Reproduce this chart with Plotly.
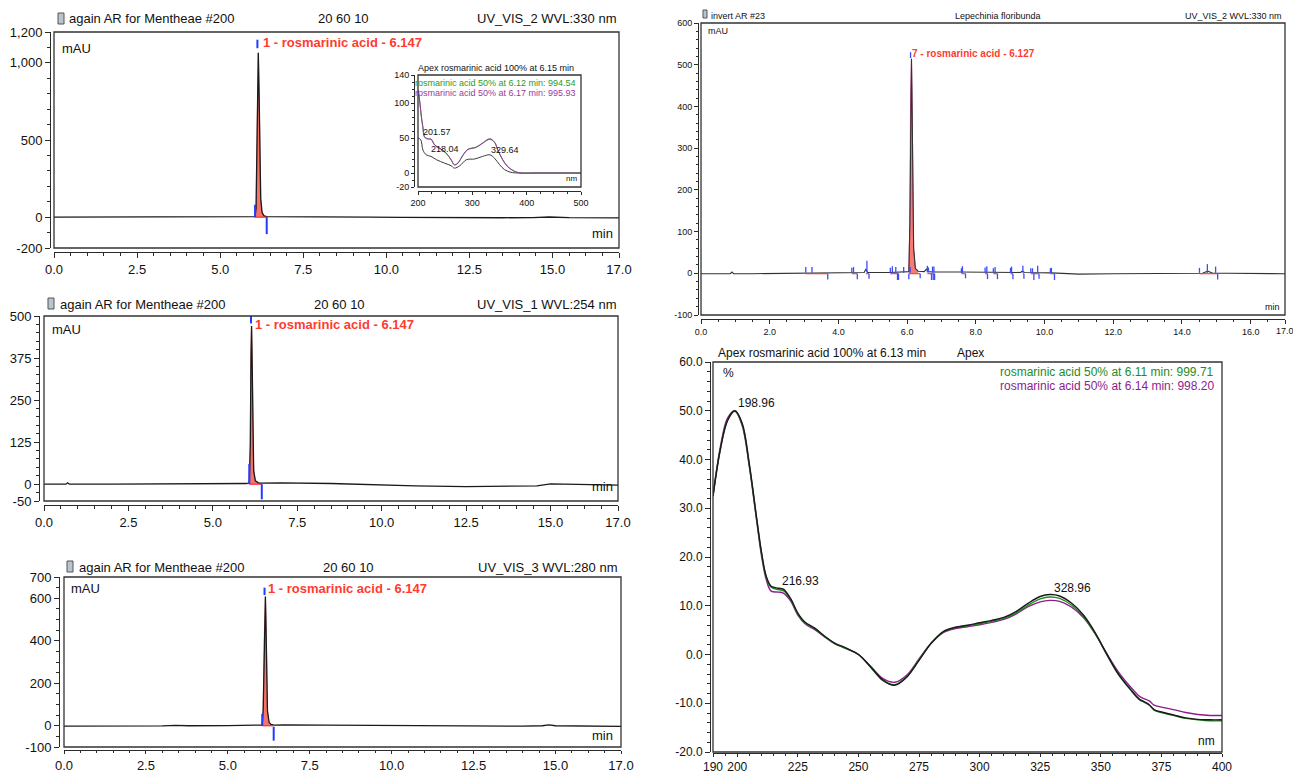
import plotly.graph_objects as go

W, H = 1293, 773
FONT = "Liberation Sans, Arial, sans-serif"

# ======================= DATA =======================
# Panel A : again AR for Mentheae #200, UV_VIS_2 WVL:330 nm
a_time = [0.0, 0.7, 1.5, 2.5, 3.5, 4.5, 5.5, 5.9, 6.05, 6.08, 6.10, 6.12, 6.147, 6.17, 6.19, 6.22, 6.26,
          6.32, 6.40, 6.6, 7.5, 8.5, 9.5, 10.5, 11.5, 12.5, 13.5, 14.4, 14.7, 14.8, 14.9, 15.5, 16.3, 17.0]
a_mau = [0, 0, -1, -1, 0, 1, 2, 2, 3, 60, 420, 880, 1065, 820, 420, 120, 30,
         8, 3, 3, 2, 1, 0, -2, -4, -5, -4, -3, 2, 4, 1, -3, -4, -5]
a_peak = [6.05, 6.40]
a_mark_t = [6.05, 6.12, 6.40]
a_mark_lo = [0, 1095, -110]
a_mark_hi = [80, 1150, 0]

# Panel B : UV_VIS_1 WVL:254 nm
b_time = [0.0, 0.65, 0.7, 0.75, 2.0, 4.0, 5.5, 6.0, 6.08, 6.11, 6.13, 6.147, 6.16, 6.18, 6.21, 6.26,
          6.35, 6.45, 7.0, 8.5, 10.0, 11.0, 12.5, 14.0, 14.6, 15.0, 15.5, 16.5, 17.0]
b_mau = [0, 0, 4, 0, 0, 1, 1, 2, 4, 120, 380, 470, 400, 180, 40, 10,
         4, 3, 4, 2, -3, -5, -7, -6, -5, 1, 0, -2, -3]
b_peak = [6.08, 6.45]
b_mark_t = [6.08, 6.13, 6.45]
b_mark_lo = [0, 478, -45]
b_mark_hi = [60, 505, 0]

# Panel C : UV_VIS_3 WVL:280 nm
c_time = [0.0, 1.5, 3.0, 3.4, 3.8, 5.0, 5.8, 6.05, 6.08, 6.11, 6.13, 6.147, 6.16, 6.18, 6.21, 6.26,
          6.32, 6.40, 6.7, 8.0, 9.5, 11.0, 12.5, 14.0, 14.6, 14.8, 15.0, 16.0, 17.0]
c_mau = [-2, -2, -1, 2, 0, 1, 2, 3, 80, 420, 570, 608, 520, 260, 70, 15,
         6, 3, 4, 3, 1, 0, -1, -2, 0, 4, 0, -3, -3]
c_peak = [6.05, 6.40]
c_mark_t = [6.05, 6.12, 6.40]
c_mark_lo = [0, 615, -70]
c_mark_hi = [55, 650, -5]

# Panel D : invert AR #23, Lepechinia floribunda
d_time = [0.0, 0.85, 0.90, 0.95, 1.5, 3.0, 4.0, 4.75, 4.80, 4.85, 5.5, 5.9, 6.05, 6.08, 6.10, 6.127,
          6.14, 6.16, 6.19, 6.24, 6.32, 6.5, 6.56, 6.62, 6.75, 7.5, 8.5, 9.3, 9.35, 9.42, 10.2, 11.0,
          12.0, 14.0, 14.6, 14.75, 14.9, 15.3, 16.0, 16.3, 17.0]
d_mau = [-1, -1, 3, -1, -1, 0, 1, 2, 10, 2, 2, 3, 4, 120, 420, 514,
         440, 220, 60, 12, 5, 4, 10, 4, 3, 3, 2, 2, 5, 2, 1, -2,
         -1, -1, 0, 5, 0, 0, -1, -1, -1]
d_peak = [6.05, 6.38]
d_up_t = [3.05, 3.23, 4.39, 4.44, 4.83, 5.51, 5.57, 5.67, 5.90, 6.09, 6.59, 6.62, 6.74, 6.78, 7.58, 7.61,
          8.27, 8.32, 8.51, 8.56, 9.01, 9.04, 9.37, 9.60, 9.65, 9.80, 10.17, 10.20, 14.51, 14.74, 14.98]
d_up_lo = [1, 1, 1, 1, 2, 1, 1, 1, 1, 2, 2, 2, 2, 2, 1, 1,
           1, 1, 1, 1, 1, 1, 1, 1, 1, 1, 1, 1, 1, 1, 1]
d_up_hi = [15, 15, 13, 15, 30, 13, 17, 15, 15, 15, 18, 14, 16, 16, 12, 17,
           14, 17, 12, 15, 13, 16, 18, 12, 12, 18, 12, 13, 13, 22, 16]
d_dn_t = [3.69, 4.55, 4.89, 5.72, 5.75, 6.05, 6.38, 6.71, 6.76, 6.80, 7.70, 8.34, 8.63, 9.08, 9.40, 9.69,
          9.84, 10.29, 15.04]
d_dn_hi = [-1, -1, -1, -1, -1, -1, -1, -1, -1, -1, -1, -1, -1, -1, -1, -1, -1, -1, -1]
d_dn_lo = [-15, -14, -13, -16, -16, -14, -12, -16, -16, -16, -12, -14, -14, -14, -13, -16, -13, -16, -15]
d_apex_t = [6.10]
d_apex_lo = [516]
d_apex_hi = [530]
d_seg_t0 = [3.05, 4.39, 4.80, 5.51, 6.05, 6.59, 7.58, 8.27, 8.51, 9.01, 9.37, 9.60, 10.17, 14.51]
d_seg_t1 = [3.69, 4.55, 4.89, 5.75, 6.38, 6.80, 7.70, 8.34, 8.63, 9.08, 9.40, 9.84, 10.29, 15.04]

# Panel E : UV spectrum (apex rosmarinic acid 100 % at 6.13 min)
e_nm = [190, 193, 196, 199, 202, 205, 208, 210, 212, 214, 217, 219, 222, 225, 228, 232, 236, 240, 245, 250,
        255, 260, 265, 270, 275, 280, 285, 290, 295, 300, 305, 310, 315, 320, 325, 329, 333, 338, 343, 348,
        352, 357, 362, 366, 368, 370, 372, 375, 380, 385, 390, 395, 400]
e_black = [32.5, 42, 48, 50, 47.5, 39, 28, 21, 16, 14, 13.6, 13.4, 11.5, 8.5, 6.6, 5.4, 3.8, 2.4, 1.3, 0,
           -2.5, -5.2, -6.3, -4.6, -1.2, 2.3, 4.7, 5.6, 6.0, 6.5, 7.0, 7.6, 8.8, 10.5, 11.9, 12.3, 12.0, 10.5, 8.0, 4.2,
           0.5, -3.8, -7.0, -9.2, -9.7, -10.3, -11.3, -11.8, -12.4, -13.0, -13.3, -13.4, -13.4]
e_green = [32.5, 42, 48, 49.9, 47.3, 38.8, 27.8, 20.8, 15.8, 13.8, 13.3, 13.1, 11.3, 8.3, 6.5, 5.3, 3.7, 2.3, 1.2, 0,
           -2.6, -5.3, -6.2, -4.5, -1.1, 2.3, 4.6, 5.5, 5.9, 6.3, 6.8, 7.4, 8.5, 10.1, 11.4, 11.8, 11.5, 10.1, 7.7, 4.0,
           0.4, -3.9, -7.1, -9.3, -9.8, -10.4, -11.4, -11.9, -12.5, -13.1, -13.4, -13.6, -13.6]
e_purple = [32.5, 42.5, 48.5, 50, 47, 38.5, 27.5, 20.3, 15.3, 13.0, 12.8, 12.6, 11.0, 8.1, 6.3, 5.1, 3.6, 2.3, 1.2, 0,
            -2.4, -4.9, -5.7, -4.2, -0.9, 2.3, 4.5, 5.3, 5.7, 6.1, 6.6, 7.2, 8.3, 9.8, 10.8, 11.1, 10.9, 9.7, 7.5, 4.0,
            0.6, -3.4, -6.5, -8.6, -9.1, -9.5, -10.4, -10.8, -11.3, -11.9, -12.3, -12.5, -12.5]

# Inset spectrum (apex rosmarinic acid 100 % at 6.15 min)
ins_nm = [200, 203, 206, 209, 212, 218, 224, 231, 240, 252, 261, 267, 273, 283, 292, 307, 319, 332, 341, 347,
          356, 365, 378, 390, 420, 460, 500]
ins_purple = [119, 104, 82, 66, 52, 49, 48.5, 40, 35.6, 28.5, 19, 12, 14, 26, 34, 37, 43, 49, 44, 33,
              19, 9.5, 2.4, 0, 0, 0, 0]
ins_green = [118, 103, 81, 65, 51, 48.5, 48, 39.5, 35, 28, 18.5, 11.5, 13.5, 25.5, 33.5, 36.5, 42.5, 48, 43.5, 32.5,
             18.5, 9, 2.2, 0, 0, 0, 0]
ins_black_nm = [200, 205, 209, 215, 224, 234, 249, 261, 267, 277, 289, 304, 319, 332, 341, 350, 359, 371, 384, 420,
                460, 500]
ins_black = [50, 47.5, 33, 26, 23.7, 19, 14, 10.4, 7, 10.4, 19, 20, 23.7, 26, 21, 12, 5, 1, 0, 0, 0, 0]

# Tick labels
abc_xvals = [0, 2.5, 5, 7.5, 10, 12.5, 15, 17]
abc_xtext = ["0.0", "2.5", "5.0", "7.5", "10.0", "12.5", "15.0", "17.0"]
a_yvals = [-200, 0, 500, 1000, 1200]
a_ytext = ["-200", "0", "500", "1,000", "1,200"]
b_yvals = [-50, 0, 125, 250, 375, 500]
b_ytext = ["-50", "0", "125", "250", "375", "500"]
c_yvals = [-100, 0, 200, 400, 600, 700]
c_ytext = ["-100", "0", "200", "400", "600", "700"]
d_xvals = [0, 2, 4, 6, 8, 10, 12, 14, 16, 17]
d_xtext = ["0.0", "2.0", "4.0", "6.0", "8.0", "10.0", "12.0", "14.0", "16.0", ""]
d_last_tick = 17
d_last_text = "17.0"
d_yvals = [-100, 0, 100, 200, 300, 400, 500, 600]
d_ytext = ["-100", "0", "100", "200", "300", "400", "500", "600"]
e_xvals = [190, 200, 225, 250, 275, 300, 325, 350, 375, 400]
e_xtext = ["190", "200", "225", "250", "275", "300", "325", "350", "375", "400"]
e_yvals = [-20, -10, 0, 10, 20, 30, 40, 50, 60]
e_ytext = ["-20.0", "-10.0", "0.0", "10.0", "20.0", "30.0", "40.0", "50.0", "60.0"]
ins_xvals = [200, 300, 400, 500]
ins_yvals = [-20, 0, 50, 100, 140]

# ======================= HELPERS =======================
def PX(x):
    return x / W

def PY(y):
    return 1 - y / H

AX = "#2b2b2b"

def xaxis(x0, x1, pos, rng, tv, tt, mdt, fs, tl=5, mtl=3):
    return dict(domain=[PX(x0), PX(x1)], anchor="free", position=PY(pos), range=rng, automargin=False,
                showline=True, linecolor=AX, linewidth=1, ticks="outside", ticklen=tl, tickcolor=AX,
                tickmode="array", tickvals=tv, ticktext=tt,
                tickfont=dict(family=FONT, size=fs, color="#111"),
                minor=dict(ticks="outside", ticklen=mtl, tickcolor=AX, dtick=mdt, tick0=0, showgrid=False),
                showgrid=False, zeroline=False, fixedrange=True)

def yaxis(top, bot, pos, rng, tv, tt, mdt, fs, tl=5, mtl=3):
    return dict(domain=[PY(bot), PY(top)], anchor="free", position=PX(pos), range=rng, automargin=False,
                showline=True, linecolor=AX, linewidth=1, ticks="outside", ticklen=tl, tickcolor=AX,
                tickmode="array", tickvals=tv, ticktext=tt,
                tickfont=dict(family=FONT, size=fs, color="#111"),
                minor=dict(ticks="outside", ticklen=mtl, tickcolor=AX, dtick=mdt, tick0=0, showgrid=False),
                showgrid=False, zeroline=False, fixedrange=True)

def segs(ts, lo, hi):
    xs, ys = [], []
    for t, a, b in zip(ts, lo, hi):
        xs += [t, t, None]
        ys += [a, b, None]
    return xs, ys

def hsegs(t0, t1, y):
    xs, ys = [], []
    for a, b in zip(t0, t1):
        xs += [a, b, None]
        ys += [y, y, None]
    return xs, ys

fig = go.Figure()

def chrom(xa, ya, t, v, peak, mk_t, mk_lo, mk_hi, lw=1.3):
    pt = [x for x in t if peak[0] <= x <= peak[1]]
    pv = [y for x, y in zip(t, v) if peak[0] <= x <= peak[1]]
    fig.add_trace(go.Scatter(x=pt, y=pv, fill="tozeroy", mode="lines",
                             line=dict(color="rgba(240,60,50,0.9)", width=0.5),
                             fillcolor="rgba(245,90,80,0.85)", xaxis=xa, yaxis=ya, hoverinfo="skip"))
    fig.add_trace(go.Scatter(x=t, y=v, mode="lines", line=dict(color="#1a1a1a", width=lw),
                             xaxis=xa, yaxis=ya))
    sx, sy = hsegs([peak[0]], [peak[1]], 0)
    fig.add_trace(go.Scatter(x=sx, y=sy, mode="lines", line=dict(color="#ff2a2a", width=1.2),
                             xaxis=xa, yaxis=ya))
    mx, my = segs(mk_t, mk_lo, mk_hi)
    fig.add_trace(go.Scatter(x=mx, y=my, mode="lines", line=dict(color="#1f3cff", width=2),
                             xaxis=xa, yaxis=ya))

# ---- Panel A ----
chrom("x", "y", a_time, a_mau, a_peak, a_mark_t, a_mark_lo, a_mark_hi)
# ---- Panel B ----
chrom("x2", "y2", b_time, b_mau, b_peak, b_mark_t, b_mark_lo, b_mark_hi)
# ---- Panel C ----
chrom("x3", "y3", c_time, c_mau, c_peak, c_mark_t, c_mark_lo, c_mark_hi)

# ---- Panel D ----
dpt = [x for x in d_time if d_peak[0] <= x <= d_peak[1]]
dpv = [y for x, y in zip(d_time, d_mau) if d_peak[0] <= x <= d_peak[1]]
fig.add_trace(go.Scatter(x=dpt, y=dpv, fill="tozeroy", mode="lines",
                         line=dict(color="rgba(200,40,140,0.9)", width=0.8),
                         fillcolor="rgba(245,100,90,0.85)", xaxis="x4", yaxis="y4"))
fig.add_trace(go.Scatter(x=d_time, y=d_mau, mode="lines", line=dict(color="#333", width=1.1),
                         xaxis="x4", yaxis="y4"))
sx, sy = hsegs(d_seg_t0, d_seg_t1, -1)
fig.add_trace(go.Scatter(x=sx, y=sy, mode="lines", line=dict(color="#ff3030", width=1.1),
                         xaxis="x4", yaxis="y4"))
for tt_, lo_, hi_ in [(d_up_t, d_up_lo, d_up_hi), (d_dn_t, d_dn_lo, d_dn_hi), (d_apex_t, d_apex_lo, d_apex_hi)]:
    mx, my = segs(tt_, lo_, hi_)
    fig.add_trace(go.Scatter(x=mx, y=my, mode="lines", line=dict(color="#3a4cff", width=1.3),
                             xaxis="x4", yaxis="y4"))

# ---- Panel E ----
fig.add_trace(go.Scatter(x=e_nm, y=e_purple, mode="lines", line=dict(color="#8e1c8e", width=1.4, shape="spline"),
                         xaxis="x5", yaxis="y5"))
fig.add_trace(go.Scatter(x=e_nm, y=e_green, mode="lines", line=dict(color="#1e8c1e", width=1.4, shape="spline"),
                         xaxis="x5", yaxis="y5"))
fig.add_trace(go.Scatter(x=e_nm, y=e_black, mode="lines", line=dict(color="#1a1a1a", width=1.4, shape="spline"),
                         xaxis="x5", yaxis="y5"))

# ---- Inset ----
fig.add_trace(go.Scatter(x=ins_black_nm, y=ins_black, mode="lines", line=dict(color="#3a3a3a", width=1, shape="spline"),
                         xaxis="x6", yaxis="y6"))
fig.add_trace(go.Scatter(x=ins_nm, y=ins_green, mode="lines", line=dict(color="#2a9a2a", width=1, shape="spline"),
                         xaxis="x6", yaxis="y6"))
fig.add_trace(go.Scatter(x=ins_nm, y=ins_purple, mode="lines", line=dict(color="#9a3aa0", width=1, shape="spline"),
                         xaxis="x6", yaxis="y6"))

# ======================= LAYOUT =======================
layout = dict(
    autosize=True, margin=dict(l=0, r=0, t=0, b=0, pad=0, autoexpand=False),
    paper_bgcolor="white", plot_bgcolor="white", showlegend=False,
    font=dict(family=FONT, color="#111"),
    xaxis=xaxis(54, 619, 252, [0, 17], abc_xvals, abc_xtext, 0.5, 13),
    yaxis=yaxis(32, 248, 50, [-200, 1200], a_yvals, a_ytext, 100, 13),
    xaxis2=xaxis(44, 618, 505, [0, 17], abc_xvals, abc_xtext, 0.5, 13),
    yaxis2=yaxis(316, 501, 39, [-50, 500], b_yvals, b_ytext, 25, 13),
    xaxis3=xaxis(64, 621, 750, [0, 17], abc_xvals, abc_xtext, 0.5, 13, tl=3, mtl=2),
    yaxis3=yaxis(577, 747, 59, [-100, 700], c_yvals, c_ytext, 50, 13),
    xaxis4=xaxis(701, 1285, 319, [0, 17], d_xvals, d_xtext, 0.5, 9, tl=4, mtl=2),
    yaxis4=yaxis(23, 315, 698, [-100, 600], d_yvals, d_ytext, 20, 9, tl=4, mtl=2),
    xaxis5=xaxis(713, 1222, 753, [190, 400], e_xvals, e_xtext, 5, 12, tl=3, mtl=2),
    yaxis5=yaxis(362, 752, 710, [-20, 60], e_yvals, e_ytext, 2, 12),
    xaxis6=xaxis(418, 581, 191, [200, 500], ins_xvals, [str(v) for v in ins_xvals], 25, 9, tl=3, mtl=2),
    yaxis6=yaxis(75, 187, 414, [-20, 140], ins_yvals, [str(v) for v in ins_yvals], 10, 9, tl=3, mtl=2),
)

shapes = []
for i in ["", "2", "3", "4", "5", "6"]:
    shapes.append(dict(type="rect", xref="x%s domain" % i, yref="y%s domain" % i, x0=0, x1=1, y0=0, y1=1,
                       line=dict(color="#333", width=1.3), fillcolor="rgba(0,0,0,0)", layer="above"))

# header icons (small document glyphs)
for (ix, iy, w, h) in [(58, 13, 6, 11), (48, 298, 6, 11), (67, 561, 6, 11), (703, 10, 4, 8)]:
    shapes.append(dict(type="rect", xref="paper", yref="paper", x0=PX(ix), x1=PX(ix + w), y0=PY(iy + h), y1=PY(iy),
                       line=dict(color="#555", width=1), fillcolor="#b8c4d0"))
layout["shapes"] = shapes

anns = []

def ann(text, x, y, xa="left", size=13, color="#111", bold=False, ya="middle"):
    if bold:
        text = "<b>%s</b>" % text
    anns.append(dict(text=text, x=PX(x), y=PY(y), xref="paper", yref="paper", xanchor=xa, yanchor=ya,
                     showarrow=False, font=dict(family=FONT, size=size, color=color)))

def dann(text, x, y, xr, yr, size=12, color="#111", xa="left"):
    anns.append(dict(text=text, x=x, y=y, xref=xr, yref=yr, xanchor=xa, yanchor="middle",
                     showarrow=False, font=dict(family=FONT, size=size, color=color)))

RED = "#ff3b2f"
# Panel A
ann("again AR for Mentheae #200", 67, 19)
ann("20 60 10", 343, 19, xa="center")
ann("UV_VIS_2 WVL:330 nm", 618, 19, xa="right")
ann("mAU", 60, 48)
ann("min", 615, 233, xa="right")
ann("1 - rosmarinic acid - 6.147", 261, 43, size=13, color=RED, bold=True)
# Inset text
ann("Apex rosmarinic acid 100% at 6.15 min", 496, 68, xa="center", size=9)
ann("rosmarinic acid 50% at 6.12 min: 994.54", 578, 83, xa="right", size=9, color="#2a9a2a")
ann("rosmarinic acid 50% at 6.17 min: 995.93", 578, 93, xa="right", size=9, color="#9a3aa0")
ann("nm", 579, 179, xa="right", size=8)
dann("201.57", 205, 58, "x6", "y6", size=9)
dann("218.04", 221, 34, "x6", "y6", size=9)
dann("329.64", 331, 33, "x6", "y6", size=9)
# Panel B
ann("again AR for Mentheae #200", 58, 305)
ann("20 60 10", 339, 305, xa="center")
ann("UV_VIS_1 WVL:254 nm", 618, 305, xa="right")
ann("mAU", 50, 329)
ann("min", 615, 487, xa="right")
ann("1 - rosmarinic acid - 6.147", 253, 324, size=13, color=RED, bold=True)
# Panel C
ann("again AR for Mentheae #200", 77, 567)
ann("20 60 10", 348, 567, xa="center")
ann("UV_VIS_3 WVL:280 nm", 619, 567, xa="right")
ann("mAU", 69, 588)
ann("min", 615, 735, xa="right")
ann("1 - rosmarinic acid - 6.147", 266, 588, size=13, color=RED, bold=True)
# Panel D
ann("invert AR #23", 709, 16, size=9)
ann("Lepechinia floribunda", 998, 16, xa="center", size=9)
ann("UV_VIS_2 WVL:330 nm", 1284, 16, xa="right", size=9)
ann("mAU", 706, 31, size=9)
ann("min", 1282, 307, xa="right", size=9)
ann("7 - rosmarinic acid - 6.127", 910, 53, size=10, color=RED, bold=True)
anns.append(dict(text=d_last_text, x=d_last_tick, xref="x4", y=PY(331), yref="paper", xanchor="center",
                 yanchor="middle", showarrow=False, font=dict(family=FONT, size=9, color="#111")))
# Panel E
ann("Apex rosmarinic acid 100% at 6.13 min", 716, 353, size=12)
ann("Apex", 955, 353, size=12)
ann("%", 721, 373, size=12)
ann("rosmarinic acid 50% at 6.11 min: 999.71", 1216, 372, xa="right", size=12, color="#1e8c1e")
ann("rosmarinic acid 50% at 6.14 min: 998.20", 1216, 386, xa="right", size=12, color="#8e1c8e")
ann("nm", 1217, 741, xa="right", size=12)
dann("198.96", 199.5, 51.6, "x5", "y5")
dann("216.93", 217.5, 15.1, "x5", "y5")
dann("328.96", 330, 13.7, "x5", "y5")

layout["annotations"] = anns
fig.update_layout(**layout)
fig.write_html("out.html", config={"displayModeBar": False, "responsive": False},
               default_width="1293px;position:absolute;left:0;top:0",
               default_height="773px")
